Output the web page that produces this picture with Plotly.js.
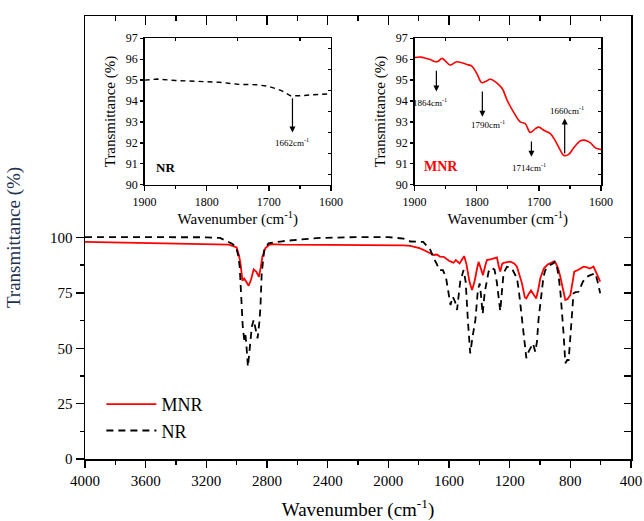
<!DOCTYPE html>
<html>
<head>
<meta charset="utf-8">
<script src="https://cdn.plot.ly/plotly-3.0.1.min.js"></script>
<style>html,body{margin:0;padding:0;background:#fff}#chart{width:644px;height:521px}</style>
</head>
<body>
<div id="chart"></div>
<script>
// ---- main spectrum: MNR ----
const mnrWN = [4000,3800,3600,3400,3200,3050,3000,2985,2975,2962,2950,2935,2921,2905,2888,2870,2853,2840,2830,2811,2790,2767,2700,2400,2000,1900,1855,1790,1750,1700,1680,1660,1635,1600,1580,1570,1555,1530,1510,1500,1485,1465,1448,1432,1415,1405,1395,1376,1362,1350,1320,1295,1284,1272,1262,1250,1240,1196,1170,1152,1135,1119,1100,1090,1075,1059,1040,1025,1010,998,975,950,930,910,895,880,866,850,833,818,800,785,774,750,713,690,670,647,630,615,603];
const mnrT  = [98.0,97.8,97.6,97.4,97.1,96.8,95.5,92,88.3,80.5,81.5,79.5,78.2,81,85.6,84.5,82.3,87,91.5,95.1,96.5,97.0,96.8,96.7,96.6,96.4,96.2,95.1,93.8,92.1,92.3,91.4,91.3,89.5,88.9,88.6,89.8,88.3,90.5,91.6,88,80,76.3,80,86,89,87,83,87,89.8,90.2,90.8,91.0,87,84.6,88,88.6,89.1,88.3,86.8,83,79.3,73,72.5,74.5,76.1,74,72.5,77,81.6,86,87.8,88.5,89.1,88.3,86,82.3,77,71.8,72.2,74,80,84.6,85.3,86.8,86.5,86,86.9,84.5,82,80.1];
// ---- main spectrum: NR ----
const nrWN = [4000,3800,3600,3400,3200,3110,3070,3030,3005,2990,2980,2972,2966,2960,2950,2942,2935,2926,2918,2910,2900,2888,2875,2862,2850,2843,2835,2818,2790,2760,2700,2600,2450,2200,2000,1900,1855,1770,1723,1700,1680,1665,1640,1620,1600,1590,1575,1560,1547,1535,1526,1504,1490,1475,1460,1445,1426,1410,1398,1389,1378,1365,1354,1339,1320,1300,1285,1270,1262,1252,1240,1218,1195,1180,1165,1152,1140,1130,1115,1105,1090,1075,1060,1046,1031,1020,1010,995,987,977,965,932,910,903,890,877,865,855,845,833,820,811,800,789,779,765,746,717,690,668,650,635,620,607,603];
const nrT  = [100.2,100.2,100.0,100.0,100.1,99.8,98.6,97.2,95.8,92,86.8,75,66,60,53.7,56,50.7,41.7,47,54,59.7,62.8,58,54.5,62,69,83.8,94.4,97.4,97.8,98.3,99.0,99.8,100.2,100.2,99.5,98.2,98.0,94.4,90.5,88,85.3,85.3,82,73,69.5,73.3,71,67.3,74,80.1,85.3,80,62,47.7,55,62.8,76,79.3,74,65.5,75,79.3,84.6,86.3,85.5,80,70,66.8,75,84,86.8,86.5,85.3,83,81.6,76.3,70.3,60,54,45.5,48.5,50.5,52.2,48.4,53,62.8,72,74.8,82.3,85.3,87.6,88.5,89.1,87.5,82.3,75,67.3,57,43.2,44.7,44.7,55,64.2,74.8,75.3,75.5,80.1,82.3,83,83.6,83.8,80,75,74.8];
// ---- inset: NR 1900-1600 ----
const insNrWN = [1900,1880,1850,1800,1780,1750,1720,1700,1680,1665,1650,1630,1600];
const insNrT  = [95.0,95.05,94.98,94.93,94.9,94.8,94.78,94.7,94.5,94.25,94.25,94.3,94.35];
// ---- inset: MNR 1900-1600 ----
const insMnrWN = [1900,1890,1883,1875,1867,1862,1856,1850,1843,1832,1816,1808,1800,1792,1786,1778,1767,1759,1751,1741,1730,1722,1714,1706,1700,1692,1682,1674,1665,1660,1652,1644,1633,1625,1617,1609,1600];
const insMnrT  = [96.08,96.1,96.05,95.98,95.88,95.9,96.04,95.9,95.72,95.88,95.75,95.67,95.32,94.88,94.93,95.04,94.85,94.6,94.03,93.48,93.0,92.92,92.5,92.67,92.75,92.6,92.45,92.12,91.62,91.4,91.45,91.76,92.1,92.12,92.0,91.76,91.68];
// ---- ticks ----
const mainXTicks = [4000,3600,3200,2800,2400,2000,1600,1200,800,400];
const mainYTicks = [0,25,50,75,100];
const mainYMinor = [12.5,37.5,62.5,87.5];
const mainYMirror = [0,12.5,25,37.5,50,62.5,75,87.5,100];
const insXTicks = [1900,1800,1700,1600];
const insXMinor = [1850,1750,1650];
const insYTicks = [90,91,92,93,94,95,96,97];
const insYMinor = [90.5,91.5,92.5,93.5,94.5,95.5,96.5];
// ---- annotations (peak labels) ----
const nrPeakLabels = [{wn:1662, from:94.2, to:92.5, label:'1662cm<sup>-1</sup>', lx:1662, ly:92.05}];
const mnrPeakLabels = [
  {wn:1865, from:95.52, to:94.45, label:'1864cm<sup>-1</sup>', lx:1875, ly:93.97},
  {wn:1791, from:94.53, to:93.25, label:'1790cm<sup>-1</sup>', lx:1782, ly:92.9},
  {wn:1712, from:92.14, to:91.34, label:'1714cm<sup>-1</sup>', lx:1716, ly:90.86},
  {wn:1658.5, from:91.42, to:93.17, label:'1660cm<sup>-1</sup>', lx:1655, ly:93.57}
];

const FONT = 'Liberation Serif';
const black = '#000';

// helper traces so that the mirror (top/right) axes get drawn
function ghost(xa, ya){ return {x:[null], y:[null], xaxis:xa, yaxis:ya, mode:'lines', showlegend:false, hoverinfo:'skip', line:{width:0}}; }

const traces = [
  {x:mnrWN, y:mnrT, name:'MNR', mode:'lines', line:{color:'#ff0000', width:1.8}, xaxis:'x', yaxis:'y'},
  {x:nrWN, y:nrT, name:'NR', mode:'lines', line:{color:black, width:1.8, dash:'7px,5px'}, xaxis:'x', yaxis:'y'},
  {x:insNrWN, y:insNrT, name:'NR inset', showlegend:false, mode:'lines', line:{color:black, width:1.4, dash:'5px,4px'}, xaxis:'x2', yaxis:'y2'},
  {x:insMnrWN, y:insMnrT, name:'MNR inset', showlegend:false, mode:'lines', line:{color:'#ff0000', width:1.6, shape:'spline'}, xaxis:'x3', yaxis:'y3'},
  ghost('x4','y'), ghost('x','y4'),
  ghost('x5','y2'), ghost('x2','y5'),
  ghost('x6','y3'), ghost('x3','y6')
];

function mainAxisBase(){ return {showgrid:false, zeroline:false, showline:true, linecolor:black, linewidth:1.5, tickcolor:black, tickwidth:1.5}; }

const insXBase = (dom)=>({domain:dom, range:[1900,1600], autorange:false, showgrid:false, zeroline:false, showline:true, linecolor:black, linewidth:1.5,
  ticks:'outside', ticklen:5, tickwidth:1.3, tickcolor:black, tickvals:insXTicks, ticktext:insXTicks.map(String),
  minor:{tickvals:insXMinor, ticks:'outside', ticklen:3, tickcolor:black, tickwidth:1.3},
  tickfont:{family:FONT, size:12, color:black},
  title:{text:'Wavenumber (cm<sup>-1</sup>)', font:{family:FONT, size:15, color:black}, standoff:6}});
const insYBase = (dom, anchor)=>({domain:dom, anchor:anchor, range:[90,97], autorange:false, showgrid:false, zeroline:false, showline:true, linecolor:black, linewidth:1.5,
  ticks:'outside', ticklen:3, tickwidth:1.3, tickcolor:black, tickvals:insYTicks, ticktext:insYTicks.map(String),
  tickfont:{family:FONT, size:12, color:black},
  title:{text:'Transmittance (%)', font:{family:FONT, size:15, color:black}, standoff:6}});
const insMirrorX = (ov, anch)=>({overlaying:ov, anchor:anch, side:'top', range:[1900,1600], autorange:false, showgrid:false, zeroline:false, showline:true, linecolor:black, linewidth:1.5,
  ticks:'inside', ticklen:3, tickwidth:1.3, tickcolor:black, tickvals:insXMinor, showticklabels:false});
const insMirrorY = (ov, anch)=>({overlaying:ov, anchor:anch, side:'right', range:[90,97], autorange:false, showgrid:false, zeroline:false, showline:true, linecolor:black, linewidth:1.5,
  ticks:'inside', ticklen:3, tickwidth:1.3, tickcolor:black, tickvals:insYMinor, showticklabels:false});

const insYdom = [0.6192, 0.9497];
const annotations = [];
nrPeakLabels.forEach(p=>{
  annotations.push({xref:'x2', yref:'y2', axref:'x2', ayref:'y2', x:p.wn, y:p.to, ax:p.wn, ay:p.from, text:'', showarrow:true, arrowhead:2, arrowsize:1, arrowwidth:1.2, arrowcolor:black});
  annotations.push({xref:'x2', yref:'y2', x:p.lx, y:p.ly, text:p.label, showarrow:false, font:{family:FONT, size:9, color:black}});
});
mnrPeakLabels.forEach(p=>{
  annotations.push({xref:'x3', yref:'y3', axref:'x3', ayref:'y3', x:p.wn, y:p.to, ax:p.wn, ay:p.from, text:'', showarrow:true, arrowhead:2, arrowsize:1, arrowwidth:1.2, arrowcolor:black});
  annotations.push({xref:'x3', yref:'y3', x:p.lx, y:p.ly, text:p.label, showarrow:false, font:{family:FONT, size:9, color:black}});
});
annotations.push({xref:'x2', yref:'y2', x:1867, y:90.8, text:'<b>NR</b>', showarrow:false, font:{family:FONT, size:13, color:black}});
annotations.push({xref:'x3', yref:'y3', x:1858, y:90.85, text:'<b>MNR</b>', showarrow:false, font:{family:FONT, size:14, color:'#ff0000'}});

const layout = {
  width:644, height:521,
  margin:{l:85, r:13, t:16, b:62},
  paper_bgcolor:'#fff', plot_bgcolor:'rgba(0,0,0,0)',
  font:{family:FONT, color:black},
  showlegend:true,
  legend:{x:0.03, y:0.165, xanchor:'left', yanchor:'top', bgcolor:'rgba(0,0,0,0)', font:{family:FONT, size:18, color:black}, itemwidth:50, tracegroupgap:0},
  xaxis:Object.assign(mainAxisBase(), {domain:[0,1], anchor:'y', range:[4000,400], autorange:false,
    ticks:'outside', ticklen:7, tickvals:mainXTicks, ticktext:mainXTicks.map(String),
    minor:{dtick:200, tick0:0, ticks:'outside', ticklen:4, tickcolor:black, tickwidth:1.5},
    tickfont:{family:FONT, size:15, color:black},
    title:{text:'Wavenumber (cm<sup>-1</sup>)', font:{family:FONT, size:19, color:black}, standoff:15}}),
  yaxis:Object.assign(mainAxisBase(), {domain:[0,1], anchor:'x', range:[0,200], autorange:false,
    ticks:'outside', ticklen:8, tickvals:mainYTicks, ticktext:mainYTicks.map(String),
    minor:{tickvals:mainYMinor, ticks:'outside', ticklen:4, tickcolor:black, tickwidth:1.5},
    tickfont:{family:FONT, size:15, color:black},
    title:{text:'Transmittance (%)', font:{family:FONT, size:19, color:'#233150'}, standoff:24}}),
  xaxis4:Object.assign(mainAxisBase(), {overlaying:'x', anchor:'y', side:'top', range:[4000,400], autorange:false,
    ticks:'inside', ticklen:9, tickvals:mainXTicks, showticklabels:false,
    minor:{dtick:200, tick0:0, ticks:'inside', ticklen:5, tickcolor:black, tickwidth:1.5}}),
  yaxis4:Object.assign(mainAxisBase(), {overlaying:'y', anchor:'x', side:'right', range:[0,200], autorange:false,
    ticks:'inside', ticklen:7, tickvals:mainYMirror, showticklabels:false}),
  xaxis2:Object.assign(insXBase([0.1092,0.4505]), {anchor:'y2'}),
  yaxis2:insYBase(insYdom, 'x2'),
  xaxis3:Object.assign(insXBase([0.6037,0.9451]), {anchor:'y3'}),
  yaxis3:insYBase(insYdom, 'x3'),
  xaxis5:insMirrorX('x2','y2'),
  yaxis5:insMirrorY('y2','x2'),
  xaxis6:insMirrorX('x3','y3'),
  yaxis6:insMirrorY('y3','x3'),
  annotations:annotations
};

Plotly.newPlot('chart', traces, layout, {displayModeBar:false, staticPlot:true});
</script>
</body>
</html>
